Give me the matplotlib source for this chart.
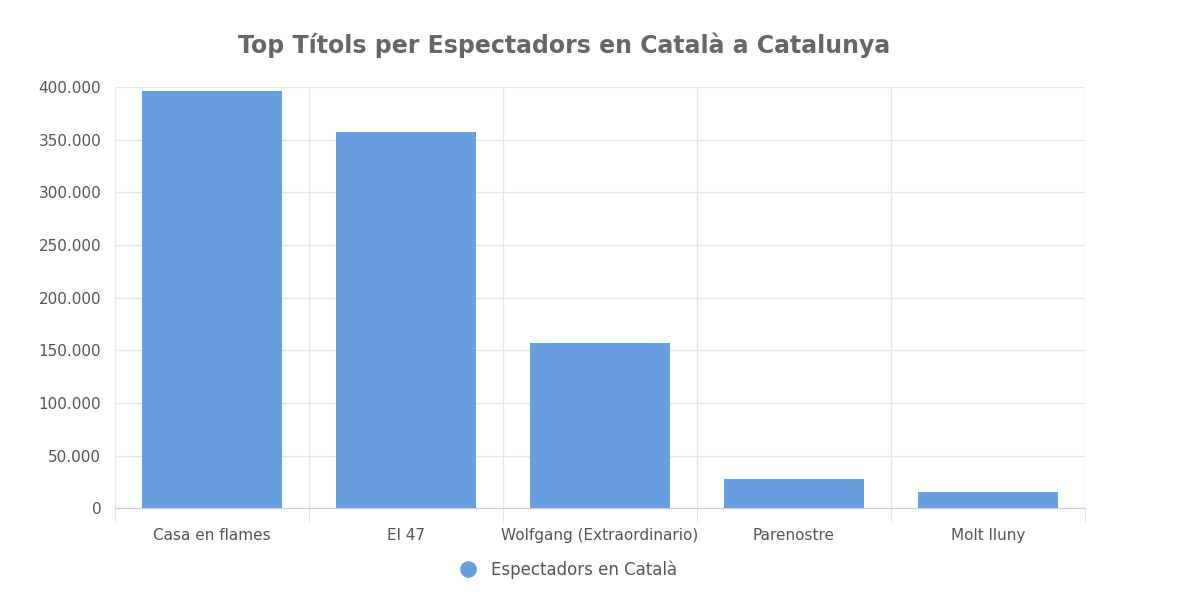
import matplotlib.pyplot as plt
from matplotlib.ticker import FuncFormatter, FixedLocator
from matplotlib.lines import Line2D

titles = ["Casa en flames", "El 47", "Wolfgang (Extraordinario)", "Parenostre", "Molt lluny"]
viewers = [396000, 357000, 157000, 28000, 15000]

fig = plt.figure(figsize=(12, 6.08), dpi=100)
ax = fig.add_axes([0.096, 0.164, 0.808, 0.693])

x = range(len(titles))
ax.bar(x, viewers, width=0.72, color="#6a9fdf", zorder=3)

ax.set_xlim(-0.5, len(titles) - 0.5)
ax.set_ylim(0, 400000)
ax.set_yticks(range(0, 400001, 50000))
ax.yaxis.set_major_formatter(FuncFormatter(lambda v, p: f"{int(v):,}".replace(",", ".")))
ax.set_xticks(list(x))
ax.set_xticklabels(titles)
ax.xaxis.set_minor_locator(FixedLocator([i - 0.5 for i in range(len(titles) + 1)]))

ax.grid(axis="y", color="#e6e6e6", linewidth=1, zorder=0)
ax.grid(axis="x", which="minor", color="#e6e6e6", linewidth=1, zorder=0)
ax.tick_params(axis="x", which="major", length=0, pad=14, labelsize=11, labelcolor="#555555")
ax.tick_params(axis="x", which="minor", length=10, color="#e0e0e0")
ax.tick_params(axis="y", length=0, pad=10, labelsize=11, labelcolor="#555555")
for s in ["top", "right", "left"]:
    ax.spines[s].set_visible(False)
ax.spines["bottom"].set_color("#cccccc")

fig.text(0.47, 0.925, "Top Títols per Espectadors en Català a Catalunya", ha="center", va="center",
         fontsize=17, fontweight="bold", color="#666666")

handle = Line2D([], [], marker="o", linestyle="", markersize=11, color="#6a9fdf")
fig.legend([handle], ["Espectadors en Català"], loc="center", bbox_to_anchor=(0.47, 0.063),
           frameon=False, fontsize=12, handletextpad=0.4, labelcolor="#555555")

fig.savefig("out.png", dpi=100)
